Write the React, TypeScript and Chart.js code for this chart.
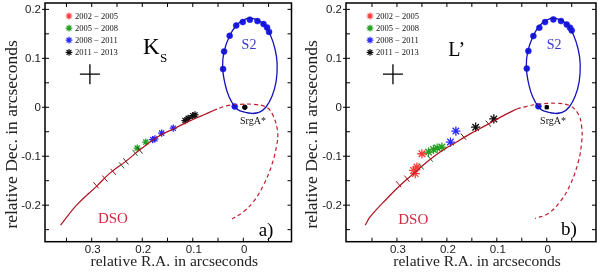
import React, { useEffect, useRef } from "react";
import { Chart, registerables } from "chart.js";

Chart.register(...registerables);

type Pt = [number, number];

// ---------------- shared data ----------------
const LEGEND_LABELS = ["2002 − 2005", "2005 − 2008", "2008 − 2011", "2011 − 2013"];
const LEGEND_COLORS = ["#ff3b3b", "#22a022", "#2a2aff", "#111111"];
const X_TICK_VALUES = [0.3, 0.2, 0.1, 0];
const X_TICK_LABELS = ["0.3", "0.2", "0.1", "0"];
const Y_TICK_VALUES = [0.2, 0.1, 0, -0.1, -0.2];
const Y_TICK_LABELS = ["0.2", "0.1", "0", "-0.1", "-0.2"];
const X_MINOR = [0.4, 0.35, 0.3, 0.25, 0.2, 0.15, 0.1, 0.05, 0, -0.05];
const Y_MINOR = [0.2, 0.15, 0.1, 0.05, 0, -0.05, -0.1, -0.15, -0.2, -0.25];
const X_TITLE = "relative R.A. in arcseconds";
const Y_TITLE = "relative Dec. in arcseconds";

// S2 orbit, relative R.A. / Dec.
const S2_ORBIT: Pt[] = [
  [-0.031, -0.0106], [-0.017, -0.0126], [0.0065, -0.0075], [0.017, 0.0016], [0.028, 0.021],
  [0.036, 0.047], [0.041, 0.082], [0.038, 0.114], [0.027, 0.146], [0.014, 0.167],
  [0.001, 0.1775], [-0.013, 0.182], [-0.028, 0.178], [-0.041, 0.169], [-0.053, 0.149],
  [-0.063, 0.118], [-0.067, 0.088], [-0.065, 0.053], [-0.057, 0.023], [-0.045, 0.0006],
  [-0.031, -0.0106], [-0.017, -0.0126], [0.0065, -0.0075],
];

// ---------------- panel a (Ks) ----------------
const S2_DOTS_A: Pt[] = [
  [0.017, 0.0016], [0.040, 0.078], [0.038, 0.114], [0.027, 0.146], [0.014, 0.167], [0.001, 0.174],
  [-0.013, 0.179], [-0.028, 0.176], [-0.040, 0.170], [-0.047, 0.163], [-0.051, 0.154],
];
const DSO_SOLID_A: Pt[] = [
  [0.3616, -0.2407], [0.330, -0.200], [0.290, -0.161], [0.264, -0.1346], [0.232, -0.110],
  [0.201, -0.0837], [0.165, -0.0577], [0.135, -0.0427], [0.109, -0.0293], [0.079, -0.0157], [0.060, -0.007],
];
const DSO_DASHED_A: Pt[] = [
  [0.060, -0.007], [0.033, 0.003], [0.007, 0.006], [-0.020, 0.006], [-0.046, 0.0], [-0.059, -0.017],
  [-0.068, -0.051], [-0.066, -0.078], [-0.056, -0.119], [-0.040, -0.159], [-0.020, -0.193],
  [0.0, -0.2135], [0.022, -0.228],
];
const TICKS_RED_A: Pt[] = [[0.2915, -0.1593], [0.274, -0.1457], [0.2574, -0.132]];
const TICKS_GREEN_A: Pt[] = [[0.2408, -0.1187], [0.2145, -0.0929]];
const TICKS_DARK_A: Pt[] = [[0.2323, -0.1106], [0.2046, -0.0882]];
const STARS_RED_A: Pt[] = [];
const STARS_GREEN_A: Pt[] = [[0.210, -0.0833], [0.193, -0.0711]];
const STARS_BLUE_A: Pt[] = [[0.1794, -0.0659], [0.175, -0.0644], [0.1616, -0.0528], [0.1386, -0.0427]];
const STARS_BLACK_A: Pt[] = [[0.1154, -0.0272], [0.109, -0.0224], [0.100, -0.0171], [0.0956, -0.0157]];
const SGRA_A: Pt[] = [[-0.003, 0]];
const CROSS_A: Pt[] = [[0.3036, 0.0677]];

// ---------------- panel b (L') ----------------
const S2_DOTS_B: Pt[] = [
  [0.0168, 0.002], [0.040, 0.079], [0.0368, 0.115], [0.0268, 0.1455], [0.0148, 0.1626], [0.0034, 0.174],
  [-0.0132, 0.1795], [-0.0286, 0.176], [-0.040, 0.169], [-0.0466, 0.1626], [-0.050, 0.157],
];
const DSO_SOLID_B: Pt[] = [
  [0.3634, -0.2407], [0.3534, -0.2236], [0.320, -0.1864], [0.2934, -0.1593], [0.2668, -0.1356],
  [0.240, -0.1118], [0.2134, -0.0915], [0.1868, -0.0746], [0.1534, -0.0543], [0.120, -0.036],
  [0.0868, -0.0171], [0.060, -0.0035],
];
const DSO_DASHED_B: Pt[] = [
  [0.060, -0.0035], [0.040, 0.002], [0.0134, 0.0067], [-0.020, 0.008], [-0.0466, 0.003],
  [-0.063, -0.0136], [-0.070, -0.0407], [-0.070, -0.071], [-0.063, -0.112], [-0.0466, -0.159],
  [-0.0266, -0.193], [-0.003, -0.217], [0.0234, -0.227],
];
const TICKS_RED_B: Pt[] = [[0.2968, -0.157], [0.280, -0.1457]];
const TICKS_GREEN_B: Pt[] = [[0.2514, -0.121], [0.2334, -0.105]];
const TICKS_DARK_B: Pt[] = [[0.1668, -0.0600], [0.117, -0.0335]];
const STARS_RED_B: Pt[] = [[0.250, -0.0949], [0.2668, -0.1289], [0.2634, -0.1356], [0.260, -0.122]];
const STARS_GREEN_B: Pt[] = [[0.2368, -0.0915], [0.2268, -0.0862], [0.2194, -0.0833], [0.210, -0.0813]];
const STARS_BLUE_B: Pt[] = [[0.182, -0.0486], [0.1928, -0.0711]];
const STARS_BLACK_B: Pt[] = [[0.1424, -0.0407], [0.106, -0.0238]];
const SGRA_B: Pt[] = [[0, 0]];
const CROSS_B: Pt[] = [[0.308, 0.0677]];

// --------------------------------------------------
interface Label { text: string; at: Pt; font: string; color: string; align: CanvasTextAlign; }

interface PanelSpec {
  xMin: number; xMax: number; yMin: number; yMax: number;
  padding: { left: number; right: number; top: number; bottom: number };
  s2Dots: Pt[]; dsoSolid: Pt[]; dsoDashed: Pt[];
  ticksRed: Pt[]; ticksGreen: Pt[]; ticksDark: Pt[];
  starsRed: Pt[]; starsGreen: Pt[]; starsBlue: Pt[]; starsBlack: Pt[];
  sgra: Pt[]; sgraStyle: string; cross: Pt[]; starRadius: number;
  labels: Label[];
}

const SERIF = '"Liberation Serif", "Times New Roman", serif';
const SANS = '"Liberation Sans", Arial, sans-serif';

const PANEL_A: PanelSpec = {
  xMin: -0.0954, xMax: 0.3925, yMin: -0.2746, yMax: 0.213,
  padding: { left: 45, right: 8.5, top: 3, bottom: 30.3 },
  s2Dots: S2_DOTS_A, dsoSolid: DSO_SOLID_A, dsoDashed: DSO_DASHED_A,
  ticksRed: TICKS_RED_A, ticksGreen: TICKS_GREEN_A, ticksDark: TICKS_DARK_A,
  starsRed: STARS_RED_A, starsGreen: STARS_GREEN_A, starsBlue: STARS_BLUE_A, starsBlack: STARS_BLACK_A,
  sgra: SGRA_A, sgraStyle: "circle", cross: CROSS_A, starRadius: 3.6,
  labels: [
    { text: "K", at: [0.1986, 0.1083], font: `23px ${SERIF}`, color: "#000", align: "left" },
    { text: "S", at: [0.165, 0.092], font: `13px ${SERIF}`, color: "#000", align: "left" },
    { text: "S2", at: [-0.0113, 0.120], font: `14px ${SERIF}`, color: "#3838cc", align: "center" },
    { text: "SrgA*", at: [-0.0192, -0.035], font: `10px ${SERIF}`, color: "#111", align: "center" },
    { text: "DSO", at: [0.258, -0.237], font: `15px ${SERIF}`, color: "#d42a40", align: "center" },
    { text: "a)", at: [-0.045, -0.262], font: `19px ${SERIF}`, color: "#000", align: "center" },
  ],
};

const PANEL_B: PanelSpec = {
  xMin: -0.0986, xMax: 0.402, yMin: -0.2746, yMax: 0.213,
  padding: { left: 46, right: 4, top: 3, bottom: 30.3 },
  s2Dots: S2_DOTS_B, dsoSolid: DSO_SOLID_B, dsoDashed: DSO_DASHED_B,
  ticksRed: TICKS_RED_B, ticksGreen: TICKS_GREEN_B, ticksDark: TICKS_DARK_B,
  starsRed: STARS_RED_B, starsGreen: STARS_GREEN_B, starsBlue: STARS_BLUE_B, starsBlack: STARS_BLACK_B,
  sgra: SGRA_B, sgraStyle: "rect", cross: CROSS_B, starRadius: 4.6,
  labels: [
    { text: "L’", at: [0.1974, 0.1043], font: `20px ${SERIF}`, color: "#000", align: "left" },
    { text: "S2", at: [-0.0146, 0.119], font: `14px ${SERIF}`, color: "#3838cc", align: "center" },
    { text: "SrgA*", at: [-0.0126, -0.034], font: `10px ${SERIF}`, color: "#111", align: "center" },
    { text: "DSO", at: [0.2674, -0.239], font: `15px ${SERIF}`, color: "#d42a40", align: "center" },
    { text: "b)", at: [-0.0446, -0.260], font: `19px ${SERIF}`, color: "#000", align: "center" },
  ],
};

const xy = (pts: Pt[]) => pts.map(([x, y]) => ({ x, y }));

function drawAsterisk(ctx: CanvasRenderingContext2D, x: number, y: number, r: number, color: string) {
  ctx.beginPath();
  for (let k = 0; k < 4; k++) {
    const a = (k * Math.PI) / 4;
    ctx.moveTo(x - r * Math.cos(a), y - r * Math.sin(a));
    ctx.lineTo(x + r * Math.cos(a), y + r * Math.sin(a));
  }
  ctx.strokeStyle = color;
  ctx.lineWidth = 1.2;
  ctx.stroke();
}

function makeDecor(spec: PanelSpec) {
  return {
    id: "decor",
    afterDatasetsDraw(chart: any) {
      const { ctx, chartArea: ca, scales } = chart;
      const xs = scales.x;
      const ys = scales.y;
      ctx.save();
      // frame
      ctx.strokeStyle = "#000";
      ctx.lineWidth = 1.5;
      ctx.strokeRect(ca.left, ca.top, ca.right - ca.left, ca.bottom - ca.top);
      // inward ticks
      ctx.lineWidth = 1;
      ctx.beginPath();
      for (const v of X_MINOR) {
        const x = xs.getPixelForValue(v);
        if (x < ca.left + 2 || x > ca.right - 2) continue;
        ctx.moveTo(x, ca.bottom); ctx.lineTo(x, ca.bottom - 4);
        ctx.moveTo(x, ca.top); ctx.lineTo(x, ca.top + 4);
      }
      for (const v of Y_MINOR) {
        const y = ys.getPixelForValue(v);
        if (y < ca.top + 2 || y > ca.bottom - 2) continue;
        ctx.moveTo(ca.left, y); ctx.lineTo(ca.left + 4, y);
        ctx.moveTo(ca.right, y); ctx.lineTo(ca.right - 4, y);
      }
      for (const v of Y_TICK_VALUES) {
        const y = ys.getPixelForValue(v);
        ctx.moveTo(ca.left - 3, y); ctx.lineTo(ca.left, y);
      }
      ctx.stroke();
      // tick labels
      ctx.fillStyle = "#1a1a1a";
      ctx.font = `11.5px ${SANS}`;
      ctx.textAlign = "center";
      ctx.textBaseline = "middle";
      X_TICK_VALUES.forEach((v, i) => {
        ctx.fillText(X_TICK_LABELS[i], xs.getPixelForValue(v) + 1, ca.bottom + 8.5);
      });
      ctx.textAlign = "right";
      Y_TICK_VALUES.forEach((v, i) => {
        ctx.fillText(Y_TICK_LABELS[i], ca.left - 4, ys.getPixelForValue(v) + 0.5);
      });
      // axis titles
      ctx.fillStyle = "#222";
      ctx.font = `15.5px ${SERIF}`;
      ctx.textAlign = "center";
      ctx.textBaseline = "alphabetic";
      ctx.fillText(X_TITLE, (ca.left + ca.right) / 2 + 6, 266);
      ctx.save();
      ctx.translate(16.5, (ca.top + ca.bottom) / 2 + 12);
      ctx.rotate(-Math.PI / 2);
      ctx.font = `17.5px ${SERIF}`;
      ctx.fillText(Y_TITLE, 0, 0);
      ctx.restore();
      // legend
      ctx.font = `8.5px ${SERIF}`;
      ctx.textAlign = "left";
      ctx.textBaseline = "middle";
      LEGEND_LABELS.forEach((t, i) => {
        const y = ca.top + 13 + i * 12.1;
        drawAsterisk(ctx, ca.left + 24, y, 3.4, LEGEND_COLORS[i]);
        ctx.fillStyle = "#111";
        ctx.fillText(t, ca.left + 30, y + 0.5);
      });
      // annotations
      ctx.textBaseline = "alphabetic";
      for (const l of spec.labels) {
        ctx.font = l.font;
        ctx.fillStyle = l.color;
        ctx.textAlign = l.align;
        ctx.fillText(l.text, xs.getPixelForValue(l.at[0]), ys.getPixelForValue(l.at[1]));
      }
      ctx.restore();
    },
  };
}

function buildConfig(spec: PanelSpec): any {
  const DSO_COLOR = "#b0101e";
  const tickDs = (pts: Pt[], color: string) => ({
    data: xy(pts), pointStyle: "line", pointRadius: 4, pointRotation: 50,
    borderColor: color, pointBorderColor: color, pointBorderWidth: 1, showLine: false,
  });
  const starDs = (pts: Pt[], color: string) => ({
    data: xy(pts), pointStyle: "star", pointRadius: spec.starRadius,
    borderColor: color, pointBorderColor: color, pointBackgroundColor: color, pointBorderWidth: 1.3, showLine: false,
  });
  return {
    type: "scatter",
    data: {
      datasets: [
        { data: xy(S2_ORBIT), showLine: true, borderColor: "#1414b8", borderWidth: 1.3, pointRadius: 0, tension: 0.4, fill: false },
        { data: xy(spec.dsoSolid), showLine: true, borderColor: DSO_COLOR, borderWidth: 1.2, pointRadius: 0, tension: 0.4, fill: false },
        { data: xy(spec.dsoDashed), showLine: true, borderColor: "#c01c30", borderWidth: 1.2, borderDash: [4, 3], pointRadius: 0, tension: 0.4, fill: false },
        tickDs(spec.ticksRed, "#b0101e"),
        tickDs(spec.ticksGreen, "#1c6e1c"),
        tickDs(spec.ticksDark, "#3a2020"),
        { data: xy(spec.s2Dots), pointStyle: "circle", pointRadius: 3, pointBackgroundColor: "#1a1aee", pointBorderColor: "#1a1aee", pointBorderWidth: 0.5, showLine: false },
        starDs(spec.starsRed, "#ff3b3b"),
        starDs(spec.starsGreen, "#22a022"),
        starDs(spec.starsBlue, "#2a2aff"),
        starDs(spec.starsBlack, "#111111"),
        { data: xy(spec.sgra), pointStyle: spec.sgraStyle, pointRadius: 2.3, pointBackgroundColor: "#000", pointBorderColor: "#000", showLine: false },
        { data: xy(spec.cross), pointStyle: "cross", pointRadius: 10, pointBorderColor: "#000", pointBorderWidth: 1.3, showLine: false },
      ],
    },
    options: {
      animation: false,
      responsive: false,
      devicePixelRatio: 1,
      events: [],
      layout: { padding: spec.padding, autoPadding: false },
      plugins: { legend: { display: false }, tooltip: { enabled: false } },
      scales: {
        x: { type: "linear", display: false, reverse: true, min: spec.xMin, max: spec.xMax },
        y: { type: "linear", display: false, min: spec.yMin, max: spec.yMax },
      },
    },
    plugins: [makeDecor(spec)],
  };
}

function Panel({ spec }: { spec: PanelSpec }) {
  const ref = useRef<HTMLCanvasElement>(null);
  useEffect(() => {
    const chart = new Chart(ref.current as HTMLCanvasElement, buildConfig(spec));
    return () => chart.destroy();
  }, [spec]);
  return (
    <div style={{ width: 300, height: 272, position: "relative" }}>
      <canvas ref={ref} width={300} height={272} style={{ display: "block", width: 300, height: 272 }} />
    </div>
  );
}

export default function App() {
  return (
    <div style={{ position: "fixed", left: 0, top: 0, width: 600, height: 272, display: "flex", background: "#fff" }}>
      <Panel spec={PANEL_A} />
      <Panel spec={PANEL_B} />
    </div>
  );
}
